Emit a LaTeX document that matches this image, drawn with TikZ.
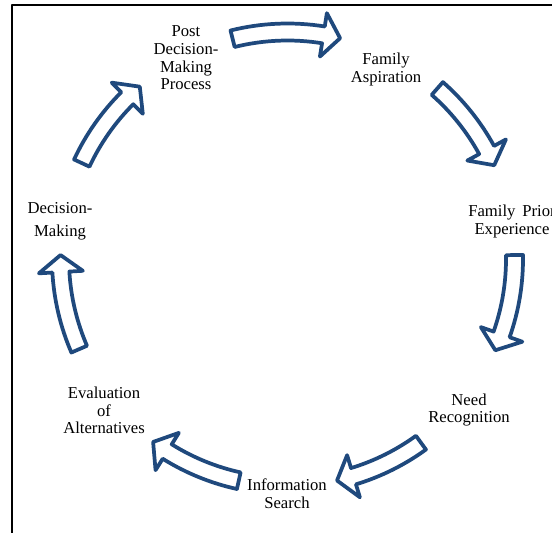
\documentclass[tikz,border=0pt]{standalone}
\usepackage{fontspec}
\setmainfont{Liberation Serif}
\definecolor{arrowblue}{HTML}{1F497D}
\begin{document}
\begin{tikzpicture}[x=0.75pt, y=-0.75pt, font=\fontsize{12.5}{13.3}\selectfont, line join=round, line cap=round,
	stage/.style={align=center, inner sep=0pt},
	cyclearrow/.style={draw=arrowblue, line width=2.8pt, fill=white}]
	%%%%%%%%%%%%%%%%%%%%%%%%%%%%%%%%%
	\clip (0,0) rectangle (552,532);
	\coordinate (O) at (287.5,259);
	%%%%%%%%%%%%%%%%%%%%%%%%%%%%%%%%%
	\draw[line width=1.6pt] (12,545) -- (12,5) -- (565,5);
	%%%%%%%%%%%%%%%%%%%%%%%%%%%%%%%%%
	\node[stage] (post) at (186,58) {Post\\Decision-\\Making\\Process};
	\node[stage] (asp) at (386,69.5) {Family\\Aspiration};
	\node[stage] (prior) at (512,221.5) {Family\hspace{2pt} Prior\\Experience};
	\node[stage] (need) at (469,410) {Need\\Recognition};
	\node[stage] (info) at (287,493.5) {Information\\Search};
	\node[stage] (eval) at (104,410.5) {Evaluation\\of\\Alternatives};
	\node[stage] (dec) at (60,221.5) {Decision-\\[4pt]Making};
	%%%%%%%%%%%%%%%%%%%%%%%%%%%%%%%%%
	\begin{scope}[shift={(O)}]
		\foreach \a/\b in {-104/-76.6, -48.7/-24.4, -1/23.7, 54/77.4, 102.4/126.3, 156.6/181, 205/229.4}{
			\pgfmathsetmacro{\c}{\b-4.3}
			\draw[cyclearrow] (\a:235.5) arc[start angle=\a, end angle=\c, radius=235.5]
				-- (\c:249) -- (\b:227) -- (\c:205) -- (\c:218.5)
				arc[start angle=\c, end angle=\a, radius=218.5] -- cycle;
		}
	\end{scope}
	%%%%%%%%%%%%%%%%%%%%%%%%%%%%%%%%%
\end{tikzpicture}
\end{document}
